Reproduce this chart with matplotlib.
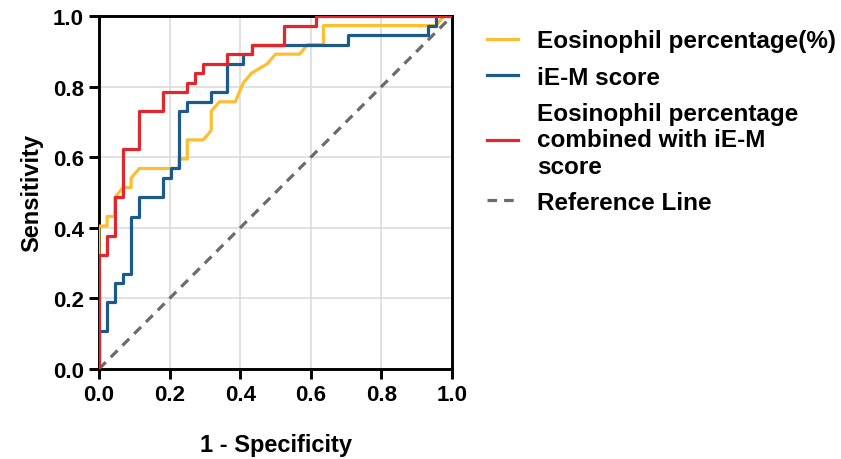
import matplotlib
matplotlib.use("Agg")
import matplotlib.pyplot as plt

plt.rcParams['font.family'] = ['Liberation Sans', 'DejaVu Sans']
plt.rcParams['font.weight'] = 'bold'

# ROC-Eckpunkte (37 Positive, 44 Negative)
eos_fpr = [0, 0, 0.023, 0.023, 0.045, 0.045, 0.068, 0.091, 0.091, 0.114, 0.227, 0.227, 0.25, 0.25,
           0.295, 0.318, 0.318, 0.341, 0.386, 0.409, 0.432, 0.477, 0.5, 0.568, 0.591, 0.636, 0.636,
           0.955, 0.977, 1.0]
eos_tpr = [0, 0.405, 0.405, 0.432, 0.432, 0.486, 0.514, 0.514, 0.541, 0.568, 0.568, 0.595, 0.595, 0.649,
           0.649, 0.676, 0.730, 0.757, 0.757, 0.811, 0.838, 0.865, 0.892, 0.892, 0.919, 0.919, 0.973,
           0.973, 1.0, 1.0]

iem_fpr = [0, 0, 0.023, 0.023, 0.045, 0.045, 0.068, 0.068, 0.091, 0.091, 0.114, 0.114, 0.182, 0.182,
           0.205, 0.205, 0.227, 0.227, 0.25, 0.25, 0.318, 0.318, 0.364, 0.364, 0.409, 0.409, 0.432,
           0.432, 0.705, 0.705, 0.932, 0.932, 0.955, 0.955, 1.0]
iem_tpr = [0, 0.108, 0.108, 0.189, 0.189, 0.243, 0.243, 0.270, 0.270, 0.432, 0.432, 0.486, 0.486, 0.541,
           0.541, 0.568, 0.568, 0.730, 0.730, 0.757, 0.757, 0.784, 0.784, 0.865, 0.865, 0.892, 0.892,
           0.919, 0.919, 0.946, 0.946, 0.973, 0.973, 1.0, 1.0]

comb_fpr = [0, 0, 0.023, 0.023, 0.045, 0.045, 0.068, 0.068, 0.114, 0.114, 0.182, 0.182, 0.25, 0.25,
            0.273, 0.273, 0.295, 0.295, 0.364, 0.364, 0.432, 0.432, 0.523, 0.523, 0.614, 0.614, 1.0]
comb_tpr = [0, 0.324, 0.324, 0.378, 0.378, 0.486, 0.486, 0.622, 0.622, 0.730, 0.730, 0.784, 0.784, 0.811,
            0.811, 0.838, 0.838, 0.865, 0.865, 0.892, 0.892, 0.919, 0.919, 0.973, 0.973, 1.0, 1.0]

ref_x = [0, 1]
ref_y = [0, 1]

labels = ["Eosinophil percentage(%)", "iE-M score",
          "Eosinophil percentage\ncombined with iE-M\nscore", "Reference Line"]
ticks = [0.0, 0.2, 0.4, 0.6, 0.8, 1.0]


def rocFigur():
    fig = plt.figure(figsize=(8.41, 4.6), dpi=100)
    ax = fig.add_axes([0.1177, 0.1957, 0.4198, 0.7673])

    ax.plot(eos_fpr, eos_tpr, color='#FDBE32', lw=2.3, label=labels[0], zorder=3)
    ax.plot(iem_fpr, iem_tpr, color='#1D5A8C', lw=2.3, label=labels[1], zorder=4)
    ax.plot(comb_fpr, comb_tpr, color='#E2262B', lw=2.3, label=labels[2], zorder=5)
    ax.plot(ref_x, ref_y, color='#6B6B6B', lw=2.3, ls=(0, (3, 2.2)), label=labels[3], zorder=2)

    ax.set_xlim(0, 1)
    ax.set_ylim(0, 1)
    ax.set_xticks(ticks)
    ax.set_yticks(ticks)
    ax.set_xticklabels(["%.1f" % t for t in ticks])
    ax.set_yticklabels(["%.1f" % t for t in ticks])
    ax.grid(True, color='#DCDCDC', lw=1.2)
    ax.set_axisbelow(True)
    for s in ax.spines.values():
        s.set_linewidth(2.1)
        s.set_color('black')
    ax.tick_params(direction='out', length=7, width=2.1, labelsize=16, pad=4)
    for t in ax.get_xticklabels() + ax.get_yticklabels():
        t.set_fontweight('bold')

    ax.set_xlabel("1 - Specificity", fontsize=17, fontweight='bold', labelpad=20)
    ax.set_ylabel("Sensitivity", fontsize=17, fontweight='bold', labelpad=7)

    ax.legend(loc='upper left', bbox_to_anchor=(1.037, 1.024), frameon=False,
              prop={'size': 17.5, 'weight': 'bold'}, handlelength=1.28, handletextpad=0.78,
              labelspacing=0.54)

    fig.savefig("out.png", dpi=100)


def main():
    rocFigur()


if __name__ == '__main__':
    main()
